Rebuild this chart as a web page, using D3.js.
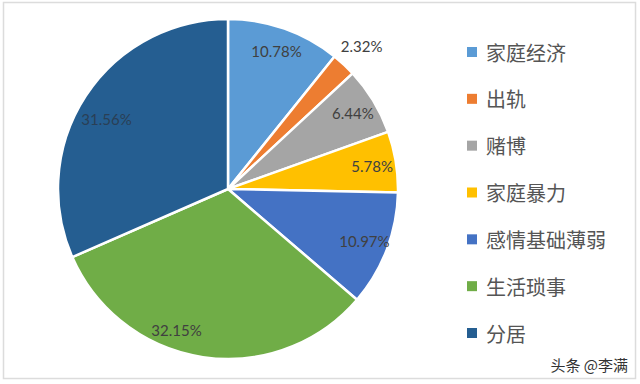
<!DOCTYPE html>
<html>
<head>
<meta charset="utf-8">
<script src="https://cdn.jsdelivr.net/npm/d3@7"></script>
<style>
  html, body { margin: 0; padding: 0; background: #fff; }
  svg { display: block; }
</style>
</head>
<body>
<svg id="chart" width="640" height="384"></svg>
<script>
const categories = ["家庭经济", "出轨", "赌博", "家庭暴力", "感情基础薄弱", "生活琐事", "分居"];
const values = [10.78, 2.32, 6.44, 5.78, 10.97, 32.15, 31.56];
const labels = ["10.78%", "2.32%", "6.44%", "5.78%", "10.97%", "32.15%", "31.56%"];
const colors = ["#5B9BD5", "#ED7D31", "#A5A5A5", "#FFC000", "#4472C4", "#70AD47", "#255E91"];
const watermark = "头条 @李满";

const svg = d3.select("#chart");

// outer frame
svg.append("rect")
  .attr("x", 3.5).attr("y", 2.5)
  .attr("width", 632).attr("height", 376)
  .attr("fill", "#fff")
  .attr("stroke", "#dcdcdc").attr("stroke-width", 1.5);

const cx = 228, cy = 189, R = 170;
const g = svg.append("g").attr("transform", `translate(${cx},${cy})`);

const pie = d3.pie().sort(null).value(d => d)
  .startAngle(0).endAngle(2 * Math.PI);
const arcs = pie(values);
const arc = d3.arc().innerRadius(0).outerRadius(R);

g.selectAll("path.slice")
  .data(arcs)
  .join("path")
  .attr("class", "slice")
  .attr("d", arc)
  .attr("fill", (d, i) => colors[i])
  .attr("stroke", "#fff")
  .attr("stroke-width", 2.5)
  .attr("stroke-linejoin", "round");

// data labels (best-fit style)
const inArc = d3.arc().innerRadius(146).outerRadius(146);
const outArc = d3.arc().innerRadius(196).outerRadius(196);
g.selectAll("text.lbl")
  .data(arcs)
  .join("text")
  .attr("class", "lbl")
  .attr("transform", (d, i) => {
    const span = d.endAngle - d.startAngle;
    let p;
    if (span < 0.2) {
      p = outArc.centroid(d);
    } else if (span > 1.5) {
      const frac = d.startAngle < Math.PI ? 0.6 : 0.47;
      const r = d.startAngle < Math.PI ? 150 : 140;
      const a = d.startAngle + span * frac;
      p = [Math.sin(a) * r, -Math.cos(a) * r];
    } else {
      p = inArc.centroid(d);
    }
    return `translate(${p[0]},${p[1]})`;
  })
  .attr("text-anchor", "middle")
  .attr("dominant-baseline", "central")
  .attr("font-family", "Lato, 'Liberation Sans', sans-serif")
  .attr("font-size", 15)
  .attr("fill", (d, i) => i === 6 ? "#2a3f55" : "#404040")
  .text((d, i) => labels[i]);

// legend
const ly = d3.scalePoint().domain(categories).range([52, 333]);
const items = svg.append("g").selectAll("g.item")
  .data(categories)
  .join("g")
  .attr("class", "item")
  .attr("transform", d => `translate(467,${ly(d)})`);
items.append("rect")
  .attr("x", 0).attr("y", -5)
  .attr("width", 10).attr("height", 10)
  .attr("fill", (d, i) => colors[i]);
items.append("text")
  .attr("x", 19).attr("y", 0)
  .attr("dominant-baseline", "central")
  .attr("font-family", "'Noto Sans CJK SC', sans-serif")
  .attr("font-size", 20)
  .attr("fill", "#555")
  .text(d => d);

// watermark
svg.append("text")
  .attr("x", 628).attr("y", 371)
  .attr("text-anchor", "end")
  .attr("font-family", "'Noto Sans CJK SC', sans-serif")
  .attr("font-size", 15)
  .attr("fill", "#333")
  .attr("stroke", "#fff").attr("stroke-width", 3)
  .attr("paint-order", "stroke")
  .text(watermark);
</script>
</body>
</html>
